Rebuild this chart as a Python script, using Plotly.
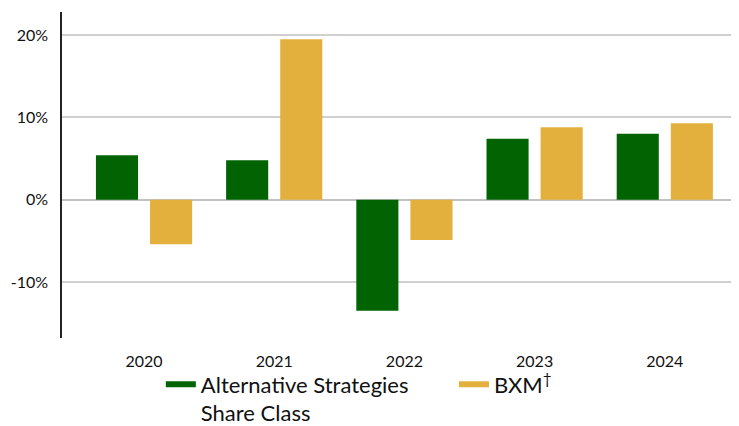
import plotly.graph_objects as go

years = ["2020", "2021", "2022", "2023", "2024"]
alt_strategies = [5.4, 4.8, -13.5, 7.4, 8.0]
bxm = [-5.4, 19.5, -4.9, 8.8, 9.3]
series_names = ["Alternative Strategies<br>Share Class", "BXM<sup>†</sup>"]
colors = ["#026302", "#E3B03E"]
y_ticks = [-10, 0, 10, 20]
y_tick_labels = ["-10%", "0%", "10%", "20%"]

x_idx = list(range(len(years)))

fig = go.Figure()
for vals, color in zip([alt_strategies, bxm], colors):
    fig.add_trace(go.Bar(x=x_idx, y=vals, marker=dict(color=color, line=dict(width=0)),
                         showlegend=False))
for name, color, lg in zip(series_names, colors, ["legend", "legend2"]):
    fig.add_trace(go.Scatter(x=[None], y=[None], mode="lines", name=name,
                             line=dict(color=color, width=6), legend=lg))

legend_common = dict(orientation="v", xanchor="left", yanchor="top",
                     font=dict(size=22, color="#111111"), valign="top",
                     itemwidth=30, bgcolor="rgba(0,0,0,0)", borderwidth=0)

fig.update_layout(
    width=731, height=418,
    margin=dict(l=54, r=0, t=4, b=88, autoexpand=False),
    plot_bgcolor="white", paper_bgcolor="white",
    barmode="group", bargap=0.169, bargroupgap=0.222,
    font=dict(family="Lato, sans-serif", color="#111111"),
    xaxis=dict(tickmode="array", tickvals=x_idx, ticktext=years,
               range=[-0.63, 4.57], showgrid=False, zeroline=False,
               showline=False, ticks="", tickfont=dict(size=16),
               ticklabelstandoff=12, automargin=False),
    yaxis=dict(range=[-16.8, 22.8], tickvals=y_ticks, ticktext=y_tick_labels,
               showgrid=True, gridcolor="#D0D0D0", gridwidth=1.5,
               zeroline=True, zerolinecolor="#C2C2C2", zerolinewidth=1.5,
               showline=True, linecolor="#222222", linewidth=1.5,
               ticks="", tickfont=dict(size=16), ticklabelstandoff=9,
               automargin=False),
    legend=dict(x=0.146, y=-0.078, **legend_common),
    legend2=dict(x=0.579, y=-0.078, **legend_common),
)

fig.write_html("out.html")
